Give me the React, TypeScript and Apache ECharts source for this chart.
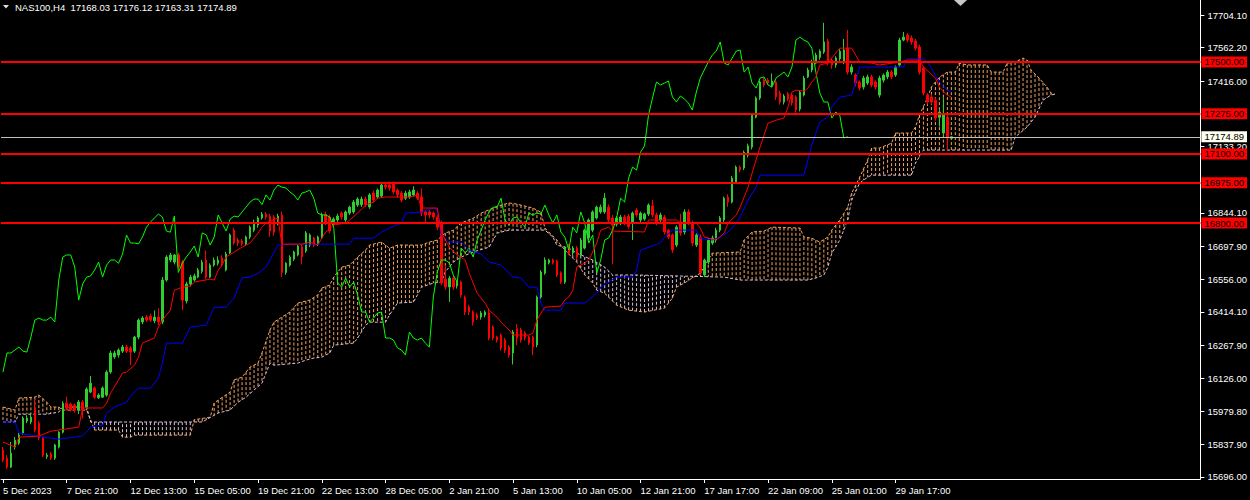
import React, { useEffect, useRef } from 'react';
import * as echarts from 'echarts';

// H4 candles, [open, close, low, high]
const candles: number[][] = [
  [15813, 15769, 15760, 15826], [15778, 15739, 15730, 15791], [15739, 15800, 15735, 15848], [15826, 15856, 15815, 15870],
  [15843, 15878, 15835, 15887], [15887, 15952, 15880, 15960], [15939, 15952, 15930, 15965], [15935, 15956, 15925, 15970],
  [15991, 15900, 15890, 16035], [15930, 15865, 15855, 15940], [15865, 15791, 15782, 15870], [15785, 15791, 15775, 15800],
  [15796, 15778, 15770, 15805], [15778, 15835, 15770, 15840], [15826, 15891, 15820, 15895], [15891, 16017, 15885, 16025],
  [16017, 15995, 15985, 16045], [16013, 15987, 15980, 16020], [16009, 15987, 15975, 16015], [15987, 16022, 15970, 16030],
  [16022, 15987, 15950, 16030], [16000, 16078, 15990, 16085], [16065, 16104, 16060, 16135], [16083, 16043, 16035, 16090],
  [16040, 16052, 16035, 16060], [16043, 16083, 16040, 16090], [16052, 16152, 16045, 16160], [16152, 16235, 16145, 16245],
  [16218, 16235, 16210, 16245], [16226, 16248, 16215, 16255], [16243, 16261, 16235, 16270], [16261, 16243, 16235, 16270],
  [16257, 16239, 16183, 16265], [16243, 16304, 16235, 16310], [16304, 16378, 16295, 16385], [16370, 16387, 16360, 16395],
  [16391, 16378, 16370, 16400], [16395, 16378, 16370, 16405], [16375, 16391, 16365, 16420], [16391, 16370, 16356, 16430],
  [16370, 16552, 16360, 16565], [16552, 16652, 16545, 16660], [16639, 16661, 16630, 16670], [16630, 16661, 16620, 16665],
  [16661, 16609, 16600, 16670], [16630, 16465, 16422, 16640], [16461, 16535, 16450, 16545], [16535, 16565, 16525, 16575],
  [16552, 16570, 16545, 16580], [16565, 16596, 16560, 16605], [16590, 16630, 16580, 16640], [16639, 16565, 16555, 16680],
  [16565, 16617, 16560, 16625], [16617, 16639, 16610, 16650], [16625, 16639, 16615, 16655], [16648, 16625, 16610, 16660],
  [16596, 16665, 16590, 16675], [16670, 16748, 16665, 16755], [16769, 16713, 16705, 16780], [16726, 16713, 16700, 16735],
  [16722, 16709, 16700, 16730], [16709, 16739, 16700, 16745], [16739, 16782, 16730, 16790], [16769, 16804, 16760, 16815],
  [16791, 16822, 16780, 16830], [16822, 16839, 16815, 16848], [16839, 16826, 16815, 16848], [16830, 16765, 16740, 16840],
  [16826, 16760, 16745, 16835], [16800, 16830, 16790, 16840], [16835, 16585, 16565, 16850], [16585, 16625, 16575, 16630],
  [16617, 16652, 16610, 16660], [16643, 16674, 16635, 16680], [16661, 16700, 16655, 16705], [16696, 16652, 16620, 16705],
  [16678, 16757, 16670, 16765], [16704, 16748, 16695, 16755], [16735, 16704, 16695, 16740], [16709, 16739, 16700, 16745],
  [16735, 16835, 16730, 16845], [16839, 16800, 16790, 16850], [16826, 16765, 16755, 16835], [16795, 16817, 16785, 16825],
  [16813, 16830, 16805, 16840], [16843, 16826, 16815, 16850], [16813, 16848, 16805, 16855], [16843, 16869, 16835, 16875],
  [16848, 16891, 16840, 16900], [16878, 16904, 16870, 16912], [16880, 16904, 16870, 16915], [16904, 16880, 16870, 16915],
  [16870, 16922, 16862, 16930], [16930, 16900, 16890, 16940], [16913, 16943, 16905, 16950], [16917, 16965, 16910, 16975],
  [16965, 16956, 16945, 16975], [16965, 16952, 16940, 16980], [16970, 16935, 16925, 16980], [16943, 16922, 16910, 16950],
  [16930, 16900, 16890, 16940], [16908, 16930, 16900, 16940], [16913, 16935, 16905, 16945], [16922, 16943, 16915, 16960],
  [16930, 16908, 16900, 16940], [16913, 16843, 16830, 16950], [16848, 16835, 16800, 16856], [16848, 16835, 16820, 16856],
  [16843, 16826, 16815, 16850], [16826, 16782, 16770, 16835], [16800, 16539, 16530, 16810], [16556, 16522, 16510, 16617],
  [16522, 16560, 16457, 16570], [16560, 16522, 16510, 16570], [16526, 16543, 16515, 16550], [16543, 16487, 16475, 16550],
  [16478, 16413, 16400, 16485], [16435, 16413, 16400, 16445], [16413, 16370, 16355, 16420], [16400, 16387, 16378, 16410],
  [16391, 16409, 16380, 16417], [16400, 16413, 16390, 16420], [16409, 16300, 16290, 16430], [16348, 16300, 16290, 16355],
  [16304, 16291, 16280, 16310], [16313, 16257, 16245, 16320], [16291, 16248, 16235, 16300], [16261, 16226, 16215, 16270],
  [16235, 16326, 16185, 16335], [16340, 16300, 16270, 16360], [16335, 16291, 16280, 16345], [16322, 16300, 16290, 16330],
  [16304, 16278, 16270, 16310], [16304, 16261, 16225, 16310], [16270, 16478, 16260, 16485], [16478, 16587, 16470, 16595],
  [16582, 16639, 16575, 16650], [16627, 16639, 16620, 16645], [16639, 16627, 16620, 16645], [16635, 16574, 16565, 16640],
  [16583, 16543, 16535, 16590], [16543, 16691, 16535, 16700], [16700, 16670, 16660, 16710], [16670, 16691, 16660, 16700],
  [16691, 16652, 16640, 16700], [16661, 16726, 16650, 16735], [16691, 16769, 16685, 16775], [16735, 16813, 16725, 16820],
  [16769, 16848, 16760, 16855], [16822, 16869, 16815, 16875], [16848, 16869, 16840, 16880], [16848, 16908, 16840, 16930],
  [16869, 16813, 16800, 16880], [16822, 16791, 16620, 16835], [16795, 16822, 16785, 16830], [16800, 16826, 16790, 16835],
  [16826, 16800, 16790, 16835], [16830, 16785, 16775, 16840], [16800, 16843, 16726, 16850], [16856, 16835, 16825, 16865],
  [16813, 16843, 16800, 16850], [16817, 16839, 16810, 16845], [16839, 16878, 16830, 16885], [16874, 16835, 16825, 16900],
  [16835, 16800, 16790, 16845], [16813, 16835, 16805, 16845], [16826, 16761, 16750, 16835], [16769, 16739, 16730, 16775],
  [16748, 16683, 16670, 16755], [16704, 16782, 16695, 16790], [16804, 16757, 16745, 16840], [16761, 16848, 16750, 16860],
  [16848, 16800, 16790, 16860], [16800, 16713, 16700, 16810], [16704, 16748, 16695, 16755], [16739, 16583, 16575, 16750],
  [16574, 16639, 16565, 16645], [16630, 16726, 16620, 16735], [16713, 16735, 16705, 16745], [16726, 16769, 16715, 16780],
  [16769, 16822, 16760, 16830], [16813, 16908, 16805, 16915], [16913, 16891, 16870, 16925], [16891, 16995, 16885, 17005],
  [16978, 17043, 16970, 17050], [17043, 17030, 17020, 17050], [17039, 17108, 17030, 17115], [17095, 17135, 17085, 17145],
  [17130, 17269, 17120, 17275], [17260, 17343, 17255, 17350], [17343, 17413, 17335, 17420], [17421, 17400, 17390, 17430],
  [17421, 17408, 17400, 17430], [17400, 17417, 17390, 17450], [17413, 17348, 17335, 17420], [17365, 17326, 17315, 17375],
  [17326, 17352, 17315, 17360], [17361, 17339, 17330, 17370], [17356, 17322, 17310, 17365], [17348, 17291, 17280, 17355],
  [17295, 17369, 17285, 17375], [17356, 17430, 17350, 17440], [17435, 17465, 17430, 17475], [17465, 17500, 17455, 17510],
  [17495, 17530, 17490, 17540], [17520, 17547, 17510, 17555], [17543, 17587, 17535, 17670], [17591, 17495, 17485, 17600],
  [17508, 17487, 17470, 17515], [17487, 17517, 17475, 17525], [17513, 17547, 17505, 17555], [17500, 17552, 17490, 17600],
  [17560, 17456, 17445, 17639], [17456, 17478, 17445, 17490], [17443, 17408, 17395, 17450], [17413, 17387, 17375, 17420],
  [17391, 17430, 17380, 17440], [17408, 17435, 17400, 17445], [17435, 17400, 17390, 17445], [17413, 17391, 17380, 17420],
  [17356, 17430, 17345, 17440], [17421, 17443, 17410, 17450], [17435, 17456, 17425, 17465], [17456, 17435, 17425, 17465],
  [17443, 17478, 17435, 17485], [17487, 17595, 17480, 17605], [17595, 17608, 17590, 17630], [17617, 17595, 17585, 17625],
  [17604, 17587, 17575, 17615], [17591, 17560, 17550, 17600], [17565, 17456, 17445, 17575], [17474, 17365, 17355, 17480],
  [17356, 17326, 17315, 17365], [17348, 17326, 17315, 17360], [17334, 17256, 17245, 17345], [17260, 17282, 17220, 17295],
  [17191, 17269, 17180, 17347], [17260, 17170, 17117, 17270], [17168.03, 17174.89, 17163.31, 17176.12],
];

// Ichimoku lines, vertices [bar, price]
const tenkan: number[][] = [
  [0, 15848], [3, 15826], [4, 15869], [9, 15874], [12, 15895], [19, 15913], [20, 15996], [25, 15996], [26, 16017],
  [27, 16060], [29, 16118], [30, 16148], [31, 16152], [33, 16182], [34, 16217], [35, 16278], [38, 16300], [39, 16348],
  [40, 16378], [42, 16421], [43, 16508], [45, 16521], [47, 16526], [48, 16543], [52, 16556], [53, 16552], [54, 16595],
  [55, 16617], [56, 16652], [58, 16674], [60, 16695], [62, 16713], [63, 16734], [64, 16756], [65, 16782], [66, 16800],
  [69, 16821], [70, 16708], [75, 16708], [77, 16717], [79, 16704], [80, 16734], [81, 16761], [82, 16774], [83, 16791],
  [86, 16800], [87, 16813], [89, 16843], [90, 16861], [91, 16878], [93, 16891], [94, 16908], [96, 16913], [102, 16913],
  [104, 16921], [105, 16865], [109, 16865], [110, 16760], [112, 16695], [114, 16661], [116, 16639], [117, 16582],
  [119, 16495], [121, 16452], [122, 16421], [124, 16391], [125, 16369], [127, 16335], [128, 16313], [132, 16313],
  [133, 16321], [134, 16378], [135, 16408], [136, 16434], [140, 16439], [141, 16465], [142, 16478], [143, 16508],
  [144, 16608], [146, 16626], [147, 16639], [148, 16674], [149, 16713], [150, 16769], [152, 16782], [153, 16765],
  [161, 16761], [162, 16813], [169, 16813], [170, 16800], [174, 16800], [175, 16778], [176, 16739], [179, 16726],
  [181, 16756], [182, 16800], [184, 16834], [185, 16869], [186, 16913], [187, 16956], [188, 17017], [189, 17074],
  [190, 17130], [191, 17182], [192, 17234], [194, 17247], [196, 17256], [197, 17304], [198, 17369], [199, 17378],
  [201, 17373], [202, 17386], [203, 17413], [204, 17434], [205, 17487], [207, 17495], [208, 17517], [209, 17539],
  [210, 17560], [213, 17560], [214, 17530], [215, 17499], [218, 17495], [220, 17487], [225, 17499], [227, 17508],
  [230, 17508], [231, 17478], [234, 17430], [235, 17391], [237, 17356], [238, 17347],
];

const kijun: number[][] = [
  [0, 15935], [3, 15935], [4, 15887], [10, 15869], [14, 15861], [20, 15874], [22, 15913], [25, 15922], [26, 15974],
  [28, 16000], [31, 16021], [32, 16048], [34, 16082], [37, 16082], [39, 16126], [40, 16191], [41, 16278], [45, 16278],
  [47, 16348], [51, 16356], [53, 16434], [56, 16434], [58, 16474], [60, 16561], [62, 16565], [64, 16582], [66, 16608],
  [69, 16704], [72, 16708], [87, 16708], [88, 16734], [93, 16734], [95, 16761], [97, 16778], [100, 16800], [101, 16843],
  [105, 16847], [108, 16865], [109, 16856], [110, 16748], [112, 16717], [115, 16717], [117, 16682], [120, 16665],
  [122, 16630], [125, 16617], [128, 16565], [130, 16561], [132, 16521], [134, 16521], [135, 16452], [136, 16421],
  [140, 16421], [141, 16452], [146, 16452], [149, 16495], [150, 16521], [154, 16565], [158, 16565], [159, 16595],
  [160, 16682], [165, 16713], [166, 16739], [168, 16769], [174, 16769], [175, 16734], [178, 16726], [180, 16739],
  [182, 16761], [184, 16800], [185, 16826], [187, 16900], [189, 16956], [190, 17008], [201, 17008], [202, 17074],
  [203, 17139], [204, 17191], [205, 17239], [207, 17260], [208, 17304], [210, 17347], [213, 17356], [214, 17413],
  [215, 17478], [226, 17478], [227, 17513], [231, 17513], [232, 17499], [233, 17473], [234, 17443], [235, 17413],
  [237, 17378], [238, 17369],
];

const spanA: number[][] = [
  [0, 16000], [3, 15987], [4, 16039], [8, 16043], [9, 16052], [11, 16021], [12, 16000], [14, 16000], [15, 15987],
  [21, 15987], [23, 15900], [29, 15900], [30, 15869], [32, 15869], [33, 15878], [47, 15878], [48, 15945], [52, 15956],
  [53, 16017], [54, 16030], [57, 16065], [58, 16118], [60, 16130], [62, 16174], [64, 16191], [65, 16235], [67, 16335],
  [68, 16369], [70, 16391], [72, 16413], [74, 16452], [77, 16465], [79, 16487], [80, 16517], [82, 16530], [83, 16565],
  [85, 16608], [87, 16617], [89, 16652], [91, 16682], [92, 16704], [95, 16717], [96, 16704], [97, 16690], [99, 16704],
  [105, 16704], [107, 16717], [109, 16726], [111, 16756], [113, 16769], [115, 16800], [118, 16821], [120, 16843],
  [123, 16865], [125, 16878], [127, 16887], [129, 16882], [133, 16865], [135, 16847], [136, 16778], [139, 16726],
  [141, 16682], [144, 16630], [146, 16574], [148, 16539], [149, 16508], [151, 16495], [154, 16443], [157, 16421],
  [161, 16413], [166, 16430], [168, 16474], [169, 16521], [171, 16539], [173, 16561], [175, 16582], [178, 16669],
  [185, 16674], [186, 16726], [188, 16761], [191, 16765], [193, 16782], [200, 16778], [201, 16739], [203, 16734],
  [205, 16717], [207, 16739], [208, 16769], [210, 16813], [212, 16869], [213, 16930], [215, 16999], [217, 17074],
  [218, 17126], [220, 17126], [223, 17147], [224, 17191], [228, 17191], [229, 17217], [230, 17269], [232, 17343],
  [233, 17391], [235, 17434], [237, 17456], [239, 17456], [240, 17495], [242, 17487], [247, 17487], [248, 17456],
  [251, 17456], [252, 17495], [254, 17499], [256, 17517], [257, 17508], [258, 17465], [260, 17430], [262, 17391],
  [263, 17365], [264, 17360],
];

const spanB: number[][] = [
  [0, 15935], [3, 15935], [4, 15969], [11, 15969], [14, 15978], [15, 16000], [21, 16000], [22, 15935], [50, 15935],
  [54, 15974], [57, 15987], [59, 16021], [61, 16043], [63, 16074], [65, 16104], [67, 16191], [68, 16182], [74, 16191],
  [76, 16204], [78, 16213], [80, 16217], [82, 16235], [83, 16269], [88, 16278], [89, 16300], [91, 16356], [92, 16369],
  [96, 16369], [97, 16400], [99, 16452], [103, 16456], [104, 16487], [105, 16521], [108, 16539], [110, 16543],
  [111, 16587], [113, 16630], [115, 16652], [118, 16674], [122, 16695], [124, 16756], [127, 16769], [136, 16769],
  [138, 16739], [139, 16704], [142, 16691], [144, 16669], [148, 16639], [151, 16608], [153, 16574], [159, 16574],
  [181, 16565], [185, 16552], [202, 16552], [204, 16561], [206, 16574], [207, 16608], [208, 16669], [210, 16726],
  [212, 16813], [213, 16900], [215, 16974], [217, 16999], [218, 17008], [228, 17008], [229, 17060], [231, 17117],
  [253, 17117], [254, 17173], [257, 17217], [259, 17260], [261, 17334], [263, 17356], [264, 17360],
];

const xLabels = [
  '5 Dec 2023', '7 Dec 21:00', '12 Dec 13:00', '15 Dec 05:00', '19 Dec 21:00', '22 Dec 13:00', '28 Dec 05:00',
  '2 Jan 21:00', '5 Jan 13:00', '10 Jan 05:00', '12 Jan 21:00', '17 Jan 17:00', '22 Jan 09:00', '25 Jan 01:00',
  '29 Jan 17:00',
];

const yTicks = [
  17704.1, 17562.2, 17416.0, 17133.2, 16844.1, 16697.9, 16556.0, 16414.1, 16267.9, 16126.0, 15979.8, 15837.9, 15696.0,
];

const levels = [17500, 17275, 17100, 16975, 16800];
const lastPrice = 17174.89;
const header = 'NAS100,H4  17168.03 17176.12 17163.31 17174.89';

const BAR_COUNT = 301;
const LABEL_STEP = 16;
const SHIFT = 26;
const FONT = 'Liberation Sans';

// where a span polyline sits at a given bar
function spanAt(line: number[][], i: number): number {
  for (let k = 1; k < line.length; k++) {
    const [x0, y0] = line[k - 1];
    const [x1, y1] = line[k];
    if (i >= x0 && i <= x1) {
      if (x1 === x0) return y1;
      return y0 + ((y1 - y0) * (i - x0)) / (x1 - x0);
    }
  }
  return line[line.length - 1][1];
}

export default function App() {
  const chartRef = useRef<HTMLDivElement>(null);

  useEffect(() => {
    if (!chartRef.current) return;
    const chart = echarts.init(chartRef.current, null, { renderer: 'svg' });

    const categories = Array.from({ length: BAR_COUNT }, (_, i) => String(i));
    const showLabel = (i: number) => i % LABEL_STEP === 0 && i / LABEL_STEP < xLabels.length;

    const cloudEnd = spanA[spanA.length - 1][0];
    const hatch: number[][] = [];
    for (let i = 0; i <= cloudEnd; i++) {
      hatch.push([i, spanAt(spanA, i), spanAt(spanB, i)]);
    }

    const chikou = candles.slice(SHIFT).map((c, j) => [j, c[1]]);

    const lineSeries = (data: number[][], color: string, z: number, dash?: number[]) => ({
      type: 'line',
      data,
      showSymbol: false,
      symbol: 'none',
      silent: true,
      z,
      lineStyle: { color, width: 1, type: dash ? dash : 'solid' },
    });

    const option: any = {
      animation: false,
      backgroundColor: '#000000',
      textStyle: { fontFamily: FONT },
      grid: { left: -1.5, right: 47.5, top: 0, bottom: 21 },
      xAxis: {
        type: 'category',
        data: categories,
        boundaryGap: true,
        axisLine: { show: true, lineStyle: { color: '#ffffff', width: 1 } },
        axisTick: {
          show: true,
          alignWithLabel: true,
          interval: (i: number) => showLabel(i),
          length: 4,
          lineStyle: { color: '#ffffff' },
        },
        axisLabel: {
          interval: (i: number) => showLabel(i),
          formatter: (v: string) => {
            const i = Number(v);
            return showLabel(i) ? xLabels[i / LABEL_STEP] : '';
          },
          align: 'left',
          color: '#ffffff',
          fontSize: 9.5,
          fontFamily: FONT,
          margin: 6,
        },
        splitLine: { show: false },
      },
      yAxis: {
        type: 'value',
        position: 'right',
        min: 15687.3,
        max: 17769.3,
        axisLine: { show: true, lineStyle: { color: '#ffffff', width: 1 } },
        axisTick: { show: true, length: 4, customValues: yTicks, lineStyle: { color: '#ffffff' } },
        axisLabel: {
          customValues: yTicks,
          formatter: (v: number) => v.toFixed(2),
          color: '#ffffff',
          fontSize: 9.5,
          fontFamily: FONT,
          margin: 7,
        },
        splitLine: { show: false },
      },
      graphic: [
        { type: 'polygon', shape: { points: [[3, 5], [9, 5], [6, 8.5]] }, style: { fill: '#e0e0e0' }, silent: true },
        {
          type: 'text',
          x: 15,
          y: 2,
          style: { text: header, fill: '#ffffff', font: `9.5px "${FONT}"`, textVerticalAlign: 'top' },
          silent: true,
        },
        { type: 'polygon', shape: { points: [[954, 0], [967, 0], [960.5, 6]] }, style: { fill: '#c8c8c8' }, silent: true },
      ],
      series: [
        {
          // kumo hatching, one dotted stroke per bar
          type: 'custom',
          data: hatch,
          encode: { x: 0, y: [1, 2] },
          silent: true,
          z: 1,
          renderItem: (_params: any, api: any) => {
            const a = api.coord([api.value(0), api.value(1)]);
            const b = api.coord([api.value(0), api.value(2)]);
            const up = api.value(1) >= api.value(2);
            return {
              type: 'line',
              shape: { x1: a[0], y1: a[1], x2: b[0], y2: b[1] },
              style: { stroke: up ? '#f4a460' : '#d8bfd8', lineWidth: 1, lineDash: [3, 2] },
            };
          },
        },
        lineSeries(spanA, '#f4a460', 2, [3, 2]),
        lineSeries(spanB, '#d8bfd8', 2, [3, 2]),
        {
          type: 'candlestick',
          data: candles,
          barWidth: 2,
          silent: true,
          z: 3,
          itemStyle: {
            color: '#32cd32',
            color0: '#ff0000',
            borderColor: '#32cd32',
            borderColor0: '#ff0000',
            borderWidth: 1,
          },
        },
        lineSeries(chikou, '#00ff00', 4),
        lineSeries(kijun, '#0000ff', 4),
        lineSeries(tenkan, '#ff0000', 4),
        {
          type: 'line',
          data: [],
          z: 5,
          silent: true,
          markLine: {
            symbol: ['none', 'none'],
            silent: true,
            animation: false,
            data: [
              ...levels.map((v) => ({
                yAxis: v,
                lineStyle: { color: '#ff0000', width: 2, type: 'solid' },
                label: {
                  show: true,
                  position: 'end',
                  formatter: () => v.toFixed(2),
                  color: '#000000',
                  backgroundColor: '#ff0000',
                  padding: [1, 3, 0, 3],
                  fontSize: 9.5,
                  fontFamily: FONT,
                  distance: 1,
                },
              })),
              {
                yAxis: lastPrice,
                lineStyle: { color: '#c0c0c0', width: 1, type: 'solid' },
                label: {
                  show: true,
                  position: 'end',
                  formatter: () => lastPrice.toFixed(2),
                  color: '#000000',
                  backgroundColor: '#fffff0',
                  padding: [1, 3, 0, 3],
                  fontSize: 9.5,
                  fontFamily: FONT,
                  distance: 1,
                },
              },
            ],
          },
        },
      ],
    };

    chart.setOption(option);

    return () => {
      chart.dispose();
    };
  }, []);

  return (
    <div
      ref={chartRef}
      style={{ position: 'fixed', left: 0, top: 0, width: '1250px', height: '500px', background: '#000' }}
    />
  );
}
